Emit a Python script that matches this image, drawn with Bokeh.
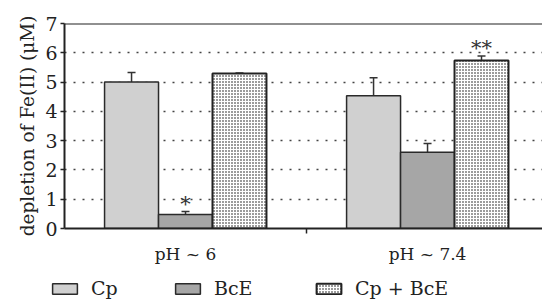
import numpy as np
from bokeh.plotting import figure
from bokeh.layouts import column
from bokeh.models import (Range1d, FixedTicker, Span, Legend, LegendItem, Whisker,
                          TeeHead, ColumnDataSource)
from bokeh.core.properties import value
from bokeh.embed import file_html
from bokeh.resources import INLINE

groups = ["pH ~ 6", "pH ~ 7.4"]
series = ["Cp", "BcE", "Cp + BcE"]
cp = [5.0, 4.53]
bce = [0.48, 2.6]
cpbce = [5.29, 5.74]
cp_err = [0.33, 0.62]
bce_err = [0.1, 0.3]
cpbce_err = [0.02, 0.15]
cp_stars = ["", ""]
bce_stars = ["*", ""]
cpbce_stars = ["", "**"]
y_ticks = [0, 1, 2, 3, 4, 5, 6, 7]

FONT = "DejaVu Serif"
BAR_W = 0.223
W = 542

centers = [i + 0.5 for i in range(len(groups))]

p = figure(width=W, height=266, output_backend="svg", toolbar_location=None,
           x_range=Range1d(0, 1.975), y_range=Range1d(0, 7),
           min_border_left=64, min_border_top=23, min_border_bottom=36,
           min_border_right=0)
p.outline_line_color = None
p.background_fill_color = "white"
p.xgrid.visible = False
p.ygrid.ticker = FixedTicker(ticks=y_ticks[1:-1])
p.ygrid.grid_line_color = "#444444"
p.ygrid.grid_line_dash = "2 7"
p.ygrid.grid_line_width = 1.3

# axes
p.yaxis.ticker = FixedTicker(ticks=y_ticks)
p.yaxis.axis_line_width = 2
p.yaxis.axis_line_color = "#222222"
p.yaxis.major_tick_out = 4
p.yaxis.major_tick_in = 0
p.yaxis.major_tick_line_color = "#222222"
p.yaxis.major_tick_line_width = 1.5
p.yaxis.minor_tick_line_color = None
p.yaxis.major_label_text_font = FONT
p.yaxis.major_label_text_font_size = "19px"
p.yaxis.major_label_text_color = "#222222"
p.yaxis.major_label_standoff = 3
p.yaxis.axis_label = "depletion of Fe(II) (μM)"
p.yaxis.axis_label_text_font = FONT
p.yaxis.axis_label_text_font_size = "18.5px"
p.yaxis.axis_label_text_font_style = "normal"
p.yaxis.axis_label_text_color = "#222222"
p.yaxis.axis_label_standoff = 4

p.xaxis.ticker = FixedTicker(ticks=centers, minor_ticks=[1.0])
p.xaxis.major_label_overrides = {c: g for c, g in zip(centers, groups)}
p.xaxis.axis_line_width = 2
p.xaxis.axis_line_color = "#222222"
p.xaxis.major_tick_out = 0
p.xaxis.major_tick_in = 0
p.xaxis.minor_tick_out = 5
p.xaxis.minor_tick_in = 0
p.xaxis.minor_tick_line_color = "#222222"
p.xaxis.minor_tick_line_width = 1.5
p.xaxis.major_label_text_font = FONT
p.xaxis.major_label_text_font_size = "17px"
p.xaxis.major_label_text_color = "#222222"
p.xaxis.major_label_standoff = 10

p.add_layout(Span(location=y_ticks[-1], dimension="width", line_color="#222222", line_width=2))

styles = [
    dict(fill_color="#d0d0d0", line_color="#2a2a2a", line_width=1.5),
    dict(fill_color="#a6a6a6", line_color="#2a2a2a", line_width=1.5),
    dict(fill_color="#9c9c9c", hatch_pattern="cross", hatch_color="white",
         hatch_scale=3, hatch_weight=1, line_color="#222222", line_width=2),
]
vals = [cp, bce, cpbce]
errs = [cp_err, bce_err, cpbce_err]
stars = [cp_stars, bce_stars, cpbce_stars]
offsets = [-BAR_W, 0, BAR_W]

for name, v, e, s, off, st in zip(series, vals, errs, stars, offsets, styles):
    src = ColumnDataSource(dict(
        x=[c + off for c in centers], top=v,
        up=[a + b for a, b in zip(v, e)], star=s))
    w = Whisker(base="x", lower="top", upper="up", source=src, dimension="height",
                line_color="#333333", line_width=1.5, lower_head=None,
                upper_head=TeeHead(size=8, line_color="#333333", line_width=1.5))
    p.add_layout(w)
    p.vbar(x="x", top="top", width=BAR_W, source=src, **st)
    p.text(x="x", y="up", text="star", source=src, text_align="center",
           text_baseline="bottom", y_offset=4, text_font=value(FONT),
           text_font_size="21px", text_color="#333333")

# legend strip below the chart
lf = figure(width=W, height=34, output_backend="svg", toolbar_location=None,
            x_range=Range1d(0, 1), y_range=Range1d(0, 1),
            x_axis_type=None, y_axis_type=None, min_border=0)
lf.frame_align = False
lf.outline_line_color = None
lf.xgrid.visible = False
lf.ygrid.visible = False
legend_x = [49, 172, 313]
for name, st, lx in zip(series, styles, legend_x):
    # a swatch-only renderer: its single bar has no height, only the legend entry shows
    r = lf.vbar(x=np.array([0.5]), top=np.array([np.nan]), width=0.1, **st)
    lg = Legend(items=[LegendItem(label=name, renderers=[r])], location=(lx, 1),
                glyph_width=31, glyph_height=13, label_standoff=11,
                padding=0, margin=0, border_line_alpha=0, background_fill_alpha=0,
                label_text_font=FONT, label_text_font_size="19px",
                label_text_color="#222222", label_height=18)
    lf.add_layout(lg, "center")

layout = column(p, lf, spacing=0)
open("out.html", "w").write(file_html(layout, INLINE))
